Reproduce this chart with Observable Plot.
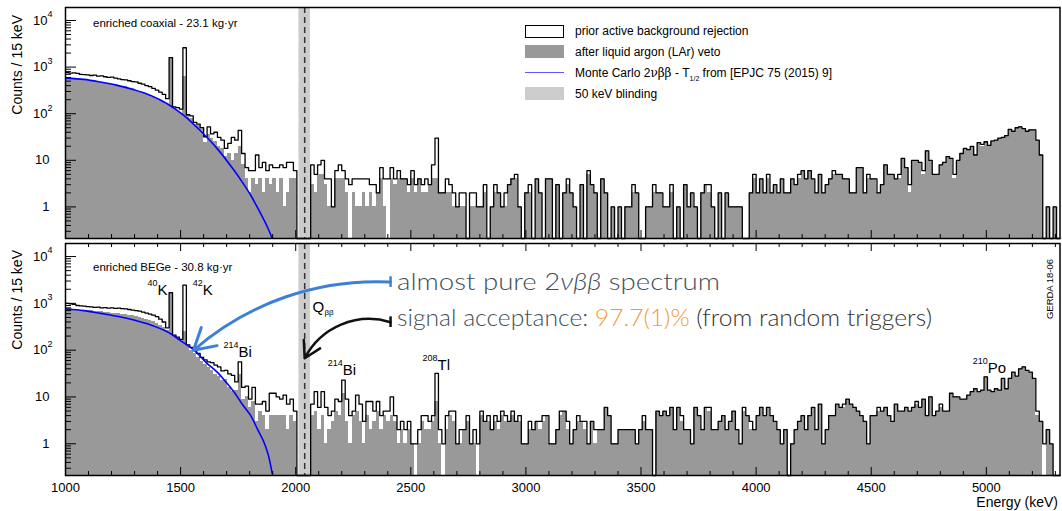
<!DOCTYPE html>
<html><head><meta charset="utf-8">
<script src="https://cdn.jsdelivr.net/npm/d3@7"></script>
<script src="https://cdn.jsdelivr.net/npm/@observablehq/plot@0.6"></script>
<style>
body{margin:0;background:#fff;}
#wrap{position:relative;width:1062px;height:511px;overflow:hidden;font-family:"Liberation Sans",Arial,sans-serif;}
#wrap svg{position:absolute;left:0;}
</style></head><body><div id="wrap"></div>
<script>
// ---------- data: counts per 15 keV bin, bins start at 1000 keV ----------
const binStart = 1000, binWidth = 15;
const topPrior = [
760,740,750,730,700,690,680,660,670,640,
650,620,600,610,580,560,540,530,510,490,
480,450,430,400,380,350,320,290,260,210,
1600,140,135,125,2600,95,90,65,60,50,
32,52,37,40,31,27,18,23,31,27,
44,14,7,6,6,13,7,9,6,8,
7,7,8,7,9,9,6,0,0,0,
0,8,5,8,10,4,4,1,6,8,
6,4,3,4,4,4,4,4,3,3,
2,7,4,4,7,4,6,4,4,3,
6,3,4,3,4,3,8,30,2,2,
4,3,2,1,2,2,0,2,2,1,
1,3,0,1,3,2,1,2,3,4,
5,1,0,2,3,0,4,2,0,4,
4,0,3,0,2,4,2,1,0,3,
0,6,3,2,0,4,2,0,1,0,
1,0,1,1,3,2,0,0,1,1,
3,2,2,1,1,3,0,1,0,3,
1,2,1,0,2,3,3,1,0,2,
0,2,1,1,1,1,0,0,2,5,
2,4,2,5,2,3,2,4,2,2,
4,3,5,6,4,6,4,2,5,2,
3,4,6,5,5,4,4,2,2,7,
7,2,5,4,4,2,3,8,5,5,
4,5,11,7,3,10,10,9,6,16,
10,5,5,8,9,12,11,5,10,14,
18,17,20,13,24,22,25,21,26,27,
30,31,34,46,42,50,52,48,42,45,
45,27,13,0,1,0,1,0];
const topLAr = [
570,560,560,540,550,520,510,500,490,470,
460,450,440,430,420,410,390,380,350,340,
320,290,280,260,240,225,205,190,175,160,
1600,130,110,100,630,95,80,60,55,45,
24,35,30,25,20,18,12,14,10,14,
20,8,4,2,4,3,4,2,4,3,
4,2,4,1,2,4,4,0,0,0,
0,3,2,5,5,3,1,1,4,4,
4,2,0,2,1,1,2,1,2,1,
2,4,1,0,4,3,4,4,4,2,
4,2,4,2,2,3,4,4,2,2,
2,2,1,1,1,1,0,1,1,1,
1,2,0,1,2,2,1,1,3,4,
4,1,0,2,2,0,4,2,0,4,
4,0,3,0,2,3,2,1,0,3,
0,5,3,2,0,4,2,0,1,0,
1,0,1,1,2,2,0,0,1,1,
2,2,2,1,1,2,0,1,0,3,
1,2,1,0,2,3,2,1,0,2,
0,2,1,1,1,1,0,0,2,4,
2,4,2,4,2,3,2,4,2,2,
4,3,4,6,4,6,4,2,5,2,
3,4,5,5,5,4,4,2,2,7,
7,2,4,4,4,2,3,8,5,5,
4,4,11,7,2,10,10,9,5,16,
10,5,5,8,9,12,11,4,10,14,
18,17,20,13,24,20,25,21,25,27,
30,31,34,44,42,50,52,48,42,45,
45,27,13,0,1,0,1,0];
const botPrior = [
1000,980,950,900,880,870,850,840,820,830,
800,810,790,800,780,790,770,760,740,720,
700,680,650,620,590,560,520,460,400,300,
1700,210,190,170,2450,130,115,100,85,70,
62,56,54,48,44,36,37,31,29,21,
56,16,17,9,16,7,7,8,5,12,
12,10,9,11,7,9,5,0,0,0,
0,7,13,6,13,6,4,5,9,8,
23,9,4,5,11,7,3,8,8,5,
8,4,5,5,10,4,2,3,2,3,
1,1,2,4,4,3,4,32,2,1,
4,5,5,1,2,2,4,1,2,1,
5,3,4,2,4,3,5,4,3,5,
3,4,1,1,3,2,3,3,4,4,
1,1,2,5,5,3,1,2,4,3,
3,1,3,2,2,2,6,4,1,1,
2,2,2,2,2,1,2,4,2,2,
0,5,4,5,4,6,2,6,4,2,
2,1,6,4,2,6,6,2,2,3,
4,2,3,5,2,1,6,4,3,2,
4,6,4,6,4,3,2,1,2,0,
1,2,3,4,2,4,6,2,7,1,
2,4,4,7,6,7,9,7,6,5,
4,3,1,4,4,6,5,6,4,3,
7,5,5,6,5,6,8,6,9,4,
10,4,5,7,5,5,12,10,10,9,
9,11,13,15,13,14,27,14,13,15,
14,25,15,25,34,28,40,44,37,34,
25,5,3,1,2,1,0,0];
const botLAr = [
770,760,740,730,720,710,700,690,680,670,
660,650,640,620,610,600,580,570,550,540,
520,500,480,450,420,400,370,340,300,260,
1700,200,180,150,250,120,100,85,70,58,
50,42,36,30,28,22,24,16,13,14,
30,9,10,6,8,3,5,4,2,4,
4,4,4,4,2,4,3,0,0,0,
0,4,5,2,4,1,2,3,5,4,
12,3,1,4,5,3,1,4,2,3,
5,2,4,3,4,3,1,2,1,2,
1,0,1,3,2,2,3,8,1,0,
2,4,3,1,1,2,3,1,1,0,
4,3,3,2,3,2,4,3,3,4,
3,3,1,1,2,2,3,2,3,4,
1,1,2,4,5,2,1,2,3,3,
2,1,3,1,2,2,6,4,1,1,
2,2,2,2,2,1,2,3,2,2,
0,5,4,5,4,6,2,6,3,2,
2,1,6,4,2,6,5,2,2,3,
4,2,3,5,2,1,5,4,2,2,
4,6,4,6,4,3,2,1,2,0,
1,2,3,4,2,4,6,2,7,1,
2,4,4,7,6,6,9,7,6,5,
4,3,1,4,4,5,5,6,4,3,
7,5,5,6,5,6,7,6,9,4,
10,4,5,6,5,5,12,10,10,9,
9,11,13,15,13,14,27,14,13,15,
14,25,15,25,34,28,40,44,37,34,
25,4,3,0,2,1,0,0];
// Monte Carlo 2nbb curves (energy keV, counts)
const mcTopE = [1003,1080,1152,1225,1297,1370,1442,1514,1587,1659,1732,1768,1804,1840,1877,1898];
const mcTopV = [581,544,477,405,327,247,164,92,42.5,17.8,6.1,3.4,1.8,0.85,0.37,0.21];
const mcBotE = [1003,1080,1152,1225,1297,1370,1442,1500,1558,1610,1659,1700,1732,1768,1804,1835,1862,1880,1898];
const mcBotV = [756,700,611,530,439,345,247,160,100,55,34,20,12.8,7,4.05,2,1.08,0.6,0.23];
// blinding window and Q value
const blindWindow = [2014, 2064];
const qbb = 2039;
// tick labels
const xTickVals = [1000,1500,2000,2500,3000,3500,4000,4500,5000];
const yLabelVals = [1,10,100,1000,10000];
const yLabelBase = ["1","10","10","10","10"];
const yLabelSup  = ["","","2","3","4"];
// isotope labels (bottom panel)
const isoE    = [1400,1596,1752,2204,2616,5006];
const isoV    = [1918,1918,90,37,47.5,41];
const isoSup  = ["40","42","214","214","208","210"];
const isoBase = ["K","K","Bi","Bi","Tl","Po"];
// arrows (bottom panel): start and tip
const arrowBlue  = {E1:2412, v1:2845, E2:1556, v2:99.5};
const arrowBlack = {E1:2412, v1:396,  E2:2039, v2:67};

// ---------- layout ----------
const W = 1062, ML = 65, MR = 2.5, XMAX = 5320, YMIN = 0.21, YMAX = 19000;
const font = '"Liberation Sans", Arial, sans-serif';

function histRects(arr){ return arr.map((v,i)=>({x1:binStart+i*binWidth, x2:binStart+(i+1)*binWidth, v})).filter(d=>d.v>0); }
function stepPts(arr){ const p=[]; arr.forEach((v,i)=>{const y=Math.max(v,YMIN); p.push({x:binStart+i*binWidth,y},{x:binStart+(i+1)*binWidth,y});}); return p; }

const xMinor = d3.range(1100, 5320, 100).filter(v=>v%500!==0);
const yMinor = [];
[0.1,1,10,100,1000].forEach(d=>{for(let k=2;k<=9;k++){const v=k*d; if(v>YMIN&&v<YMAX) yMinor.push(v);} });
const yLab = yLabelVals.map((v,i)=>({v, base:yLabelBase[i], sup:yLabelSup[i]}));

function panel({prior, lar, mcE, mcV, height, mt, mb, topTicks, bottomLabels, extra=[]}){
  const innerH = height-mt-mb;
  const pxPerDec = innerH/Math.log10(YMAX/YMIN);
  const kx = (W-ML-MR)/(XMAX-binStart);
  const f = px => Math.pow(10, px/pxPerDec);
  const mc = mcE.map((E,i)=>({E, v:mcV[i]}));
  const marks = [
    Plot.rect([0], {x1:blindWindow[0], x2:blindWindow[1], y1:YMIN, y2:YMAX, fill:"#cccccc"}),
    Plot.rectY(histRects(lar), {x1:"x1", x2:"x2", y1:YMIN, y2:"v", fill:"#999999", shapeRendering:"crispEdges"}),
    Plot.line(stepPts(prior), {x:"x", y:"y", stroke:"#000", strokeWidth:1.3}),
    Plot.line(mc, {x:"E", y:"v", stroke:"#0000ff", strokeWidth:1.6, curve:"catmull-rom", clip:true}),
    Plot.ruleX([qbb], {stroke:"#333", strokeWidth:1.5, strokeDasharray:"6,4"}),
    Plot.ruleY(yLabelVals, {x1:binStart, x2:binStart+11/kx, stroke:"#000"}),
    Plot.ruleY(yMinor, {x1:binStart, x2:binStart+6/kx, stroke:"#000"}),
    Plot.ruleX(xTickVals, {y1:YMIN, y2:YMIN*f(8), stroke:"#000"}),
    Plot.ruleX(xMinor, {y1:YMIN, y2:YMIN*f(4), stroke:"#000"}),
  ];
  if (topTicks){
    marks.push(Plot.ruleX(xTickVals, {y1:YMAX, y2:YMAX/f(8), stroke:"#000"}));
    marks.push(Plot.ruleX(xMinor, {y1:YMAX, y2:YMAX/f(4), stroke:"#000"}));
  }
  marks.push(
    Plot.frame({stroke:"#000", strokeWidth:1.5}),
    Plot.text(yLab.filter(d=>!d.sup), {x:binStart, y:"v", text:"base", textAnchor:"end", dx:-16, fontSize:13}),
    Plot.text(yLab.filter(d=>d.sup), {x:binStart, y:"v", text:"base", textAnchor:"end", dx:-18, fontSize:13}),
    Plot.text(yLab.filter(d=>d.sup), {x:binStart, y:"v", text:"sup", textAnchor:"start", dx:-18, dy:-6, fontSize:9})
  );
  if (bottomLabels){
    marks.push(Plot.text(xTickVals, {x:d=>d, y:YMIN, text:d=>String(d), dy:12, fontSize:13}));
  }
  marks.push(...extra);
  return Plot.plot({
    width:W, height, marginLeft:ML, marginRight:MR, marginTop:mt, marginBottom:mb,
    x:{domain:[binStart, XMAX], axis:null},
    y:{type:"log", domain:[YMIN, YMAX], axis:null},
    style:{fontFamily:font, fontSize:"13px", background:"transparent", overflow:"visible", color:"#000"},
    marks
  });
}

const iso = isoE.map((E,i)=>({E, v:isoV[i], sup:isoSup[i], base:isoBase[i]}));
const blueCol = "#3d80d6";
const extraBottom = [
  Plot.text(iso, {x:"E", y:"v", text:"base", textAnchor:"start", fontSize:15}),
  Plot.text(iso, {x:"E", y:"v", text:"sup", textAnchor:"end", dy:-7, fontSize:9}),
  Plot.text([{E:2073, v:829}], {x:"E", y:"v", text:()=>"Q", textAnchor:"start", fontSize:15}),
  Plot.text([{E:2073, v:829}], {x:"E", y:"v", text:()=>"ββ", textAnchor:"start", dx:12, dy:5, fontSize:8}),
  Plot.arrow([arrowBlue], {x1:"E1", y1:"v1", x2:"E2", y2:"v2", bend:-22, stroke:blueCol, strokeWidth:3, headLength:12}),
  Plot.ruleX([arrowBlue], {x:"E1", y1:d=>d.v1/1.3, y2:d=>d.v1*1.3, stroke:blueCol, strokeWidth:2.5}),
  Plot.arrow([arrowBlack], {x1:"E1", y1:"v1", x2:"E2", y2:"v2", bend:-40, stroke:"#111", strokeWidth:2.5, headLength:11}),
  Plot.ruleX([arrowBlack], {x:"E1", y1:d=>d.v1/1.3, y2:d=>d.v1*1.3, stroke:"#111", strokeWidth:2.5}),
];

const topPlot = panel({prior:topPrior, lar:topLAr, mcE:mcTopE, mcV:mcTopV, height:240, mt:7, mb:2, topTicks:false, bottomLabels:false});
const botPlot = panel({prior:botPrior, lar:botLAr, mcE:mcBotE, mcV:mcBotV, height:271, mt:3, mb:36, topTicks:true, bottomLabels:true, extra:extraBottom});
topPlot.style.top = "0px";
botPlot.style.top = "240px";
const wrap = document.getElementById("wrap");
wrap.appendChild(topPlot);
wrap.appendChild(botPlot);

// ---------- overlay text (titles, legend, annotations) ----------
const ov = document.createElementNS("http://www.w3.org/2000/svg","svg");
ov.setAttribute("width", W); ov.setAttribute("height", 511);
ov.style.top = "0px"; ov.style.pointerEvents = "none";
ov.innerHTML = `
<g font-family='${font}' fill='#000'>
  <text transform="translate(22,15) rotate(-90)" text-anchor="end" font-size="14">Counts / 15 keV</text>
  <text transform="translate(22,250) rotate(-90)" text-anchor="end" font-size="14">Counts / 15 keV</text>
  <text x="1058" y="507" text-anchor="end" font-size="14">Energy (keV)</text>
  <text x="93" y="27" font-size="11.5">enriched coaxial - 23.1 kg·yr</text>
  <text x="93" y="271" font-size="11.5">enriched BEGe - 30.8 kg·yr</text>
  <text transform="translate(1053,289) rotate(-90)" text-anchor="middle" font-size="9.5">GERDA 18-06</text>
  <rect x="525.5" y="25.5" width="38" height="12" fill="#fff" stroke="#000" stroke-width="1"/>
  <text x="575" y="35" font-size="12">prior active background rejection</text>
  <rect x="525" y="45" width="39" height="13" fill="#999999"/>
  <text x="575" y="56" font-size="12">after liquid argon (LAr) veto</text>
  <line x1="525" x2="564" y1="72.5" y2="72.5" stroke="#5a5aff" stroke-width="1.2"/>
  <text x="575" y="77" font-size="12">Monte Carlo 2<tspan font-family="DejaVu Serif">νββ</tspan>  - T<tspan font-size="7" dy="4">1/2</tspan><tspan dy="-4"> from [EPJC 75 (2015) 9]</tspan></text>
  <rect x="525" y="87" width="39" height="13" fill="#cccccc"/>
  <text x="575" y="98" font-size="12">50 keV blinding</text>
</g>
<g font-family="Lato, 'Open Sans', sans-serif" font-weight="300" font-size="24">
  <text x="397" y="290" fill="#3f4f58" textLength="323" lengthAdjust="spacingAndGlyphs">almost pure 2<tspan font-style="italic">νββ</tspan> spectrum</text>
  <text x="397" y="326" fill="#3f4f58" textLength="535" lengthAdjust="spacingAndGlyphs">signal acceptance: <tspan fill="#f2993a">97.7(1)%</tspan><tspan fill="#333"> (from random triggers)</tspan></text>
</g>`;
wrap.appendChild(ov);
</script></body></html>
